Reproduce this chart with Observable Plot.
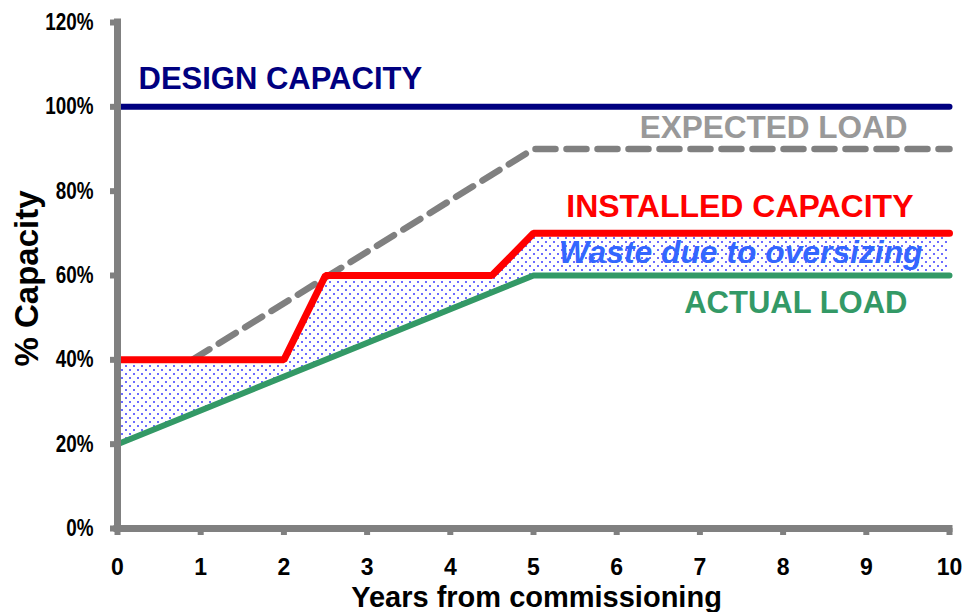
<!DOCTYPE html>
<html>
<head>
<meta charset="utf-8">
<script src="https://cdn.jsdelivr.net/npm/d3@7"></script>
<script src="https://cdn.jsdelivr.net/npm/@observablehq/plot@0.6"></script>
<style>
  html, body { margin: 0; padding: 0; background: #fff; }
  #chart { width: 969px; height: 612px; }
</style>
</head>
<body>
<div id="chart"></div>
<script>
// ---- data ----
const years = [0, 1, 2, 3, 4, 5, 6, 7, 8, 9, 10];
const yTicks = [0, 20, 40, 60, 80, 100, 120];

const designX = [0, 10];
const designY = [100, 100];
const expectedX = [0.9, 5, 10];
const expectedY = [40, 90, 90];
const installedX = [0, 2, 2.5, 4.5, 5, 10];
const installedY = [40, 40, 60, 60, 70, 70];
const actualX = [0, 5, 10];
const actualY = [20, 60, 60];

const labels = {
  design: "DESIGN CAPACITY",
  expected: "EXPECTED LOAD",
  installed: "INSTALLED CAPACITY",
  waste: "Waste due to oversizing",
  actual: "ACTUAL LOAD"
};
const xTitle = "Years from commissioning";
const yTitle = "% Capacity";

// ---- build ----
const pts = (xs, ys) => xs.map((x, i) => ({x, y: ys[i]}));
const design = pts(designX, designY);
const expected = pts(expectedX, expectedY);
const installed = pts(installedX, installedY);
const actual = pts(actualX, actualY);

const F = "'Liberation Sans', Arial, Helvetica, sans-serif";
const gray = "#808080";

const svg = Plot.plot({
  width: 969,
  height: 612,
  marginLeft: 117,
  marginRight: 20,
  marginTop: 22,
  marginBottom: 84,
  style: {fontFamily: F, background: "#fff", overflow: "visible"},
  x: {domain: [0, 10]},
  y: {domain: [0, 120]},
  marks: [
    Plot.areaY(installed, {x: "x", y: "y", fill: "url(#dots)"}),
    Plot.areaY(actual, {x: "x", y: "y", fill: "white"}),
    Plot.line(expected, {x: "x", y: "y", stroke: gray, strokeWidth: 6.5, strokeDasharray: "20,11", strokeLinejoin: "miter"}),
    Plot.line(design, {x: "x", y: "y", stroke: "#000080", strokeWidth: 6}),
    Plot.line(installed, {x: "x", y: "y", stroke: "#ff0000", strokeWidth: 7, strokeLinejoin: "miter"}),
    Plot.line(actual, {x: "x", y: "y", stroke: "#339966", strokeWidth: 6, strokeLinejoin: "miter"}),
    Plot.axisY(yTicks, {tickSize: 7, tickPadding: 17, stroke: gray, strokeWidth: 6, fontSize: 23, fontWeight: "bold", fontFamily: F, fill: "#000", tickFormat: d => d + "%", label: null}),
    Plot.axisX(years, {tickSize: 7, tickPadding: 23, stroke: gray, strokeWidth: 6, fontSize: 23, fontWeight: "bold", fontFamily: F, fill: "#000", label: null}),
    Plot.ruleX([0], {y1: 0, y2: 120, stroke: gray, strokeWidth: 7, strokeLinecap: "square"}),
    Plot.ruleY([0], {x1: 0, x2: 10, stroke: gray, strokeWidth: 7, strokeLinecap: "square"}),
    Plot.text([labels.design], {x: 0, y: 100, text: d => d, textAnchor: "start", lineAnchor: "bottom", dx: 21, dy: -18, fill: "#000080", fontSize: 31, fontWeight: "bold", fontFamily: F}),
    Plot.text([labels.expected], {x: 10, y: 90, text: d => d, textAnchor: "end", lineAnchor: "bottom", dx: -42, dy: -11, fill: "#999999", fontSize: 31.5, fontWeight: "bold", fontFamily: F}),
    Plot.text([labels.installed], {x: 10, y: 70, text: d => d, textAnchor: "end", lineAnchor: "bottom", dx: -36, dy: -16, fill: "#ff0000", fontSize: 32, fontWeight: "bold", fontFamily: F}),
    Plot.text([labels.waste], {x: 10, y: 70, text: d => d, textAnchor: "end", lineAnchor: "bottom", dx: -27, dy: 30, fill: "#3366ff", fontSize: 31.8, fontWeight: "bold", fontStyle: "italic", fontFamily: F}),
    Plot.text([labels.actual], {x: 10, y: 60, text: d => d, textAnchor: "end", lineAnchor: "bottom", dx: -42, dy: 37, fill: "#339966", fontSize: 31, fontWeight: "bold", fontFamily: F}),
    Plot.text([yTitle], {frameAnchor: "left", text: d => d, rotate: -90, textAnchor: "middle", lineAnchor: "bottom", dx: -80, dy: 3, fill: "#000", fontSize: 33, fontWeight: "bold", fontFamily: F}),
    Plot.text([xTitle], {frameAnchor: "bottom", text: d => d, textAnchor: "middle", lineAnchor: "bottom", dx: 3, dy: 78, fill: "#000", fontSize: 29, fontWeight: "bold", fontFamily: F})
  ]
});

// condensed y tick labels (as in the reference)
d3.select(svg).selectAll('g[aria-label="y-axis tick label"] text').each(function() {
  const t = this.getAttribute("transform") || "";
  this.setAttribute("transform", t + " scale(0.82,1)");
});

const defs = d3.select(svg).insert("defs", ":first-child");
const pat = defs.append("pattern")
  .attr("id", "dots")
  .attr("patternUnits", "userSpaceOnUse")
  .attr("width", 8)
  .attr("height", 8);
pat.append("rect").attr("width", 8).attr("height", 8).attr("fill", "#ffffff");
pat.append("circle").attr("cx", 2).attr("cy", 2).attr("r", 1).attr("fill", "#3b3bff");
pat.append("circle").attr("cx", 6).attr("cy", 6).attr("r", 1).attr("fill", "#3b3bff");

document.getElementById("chart").appendChild(svg);
</script>
</body>
</html>
